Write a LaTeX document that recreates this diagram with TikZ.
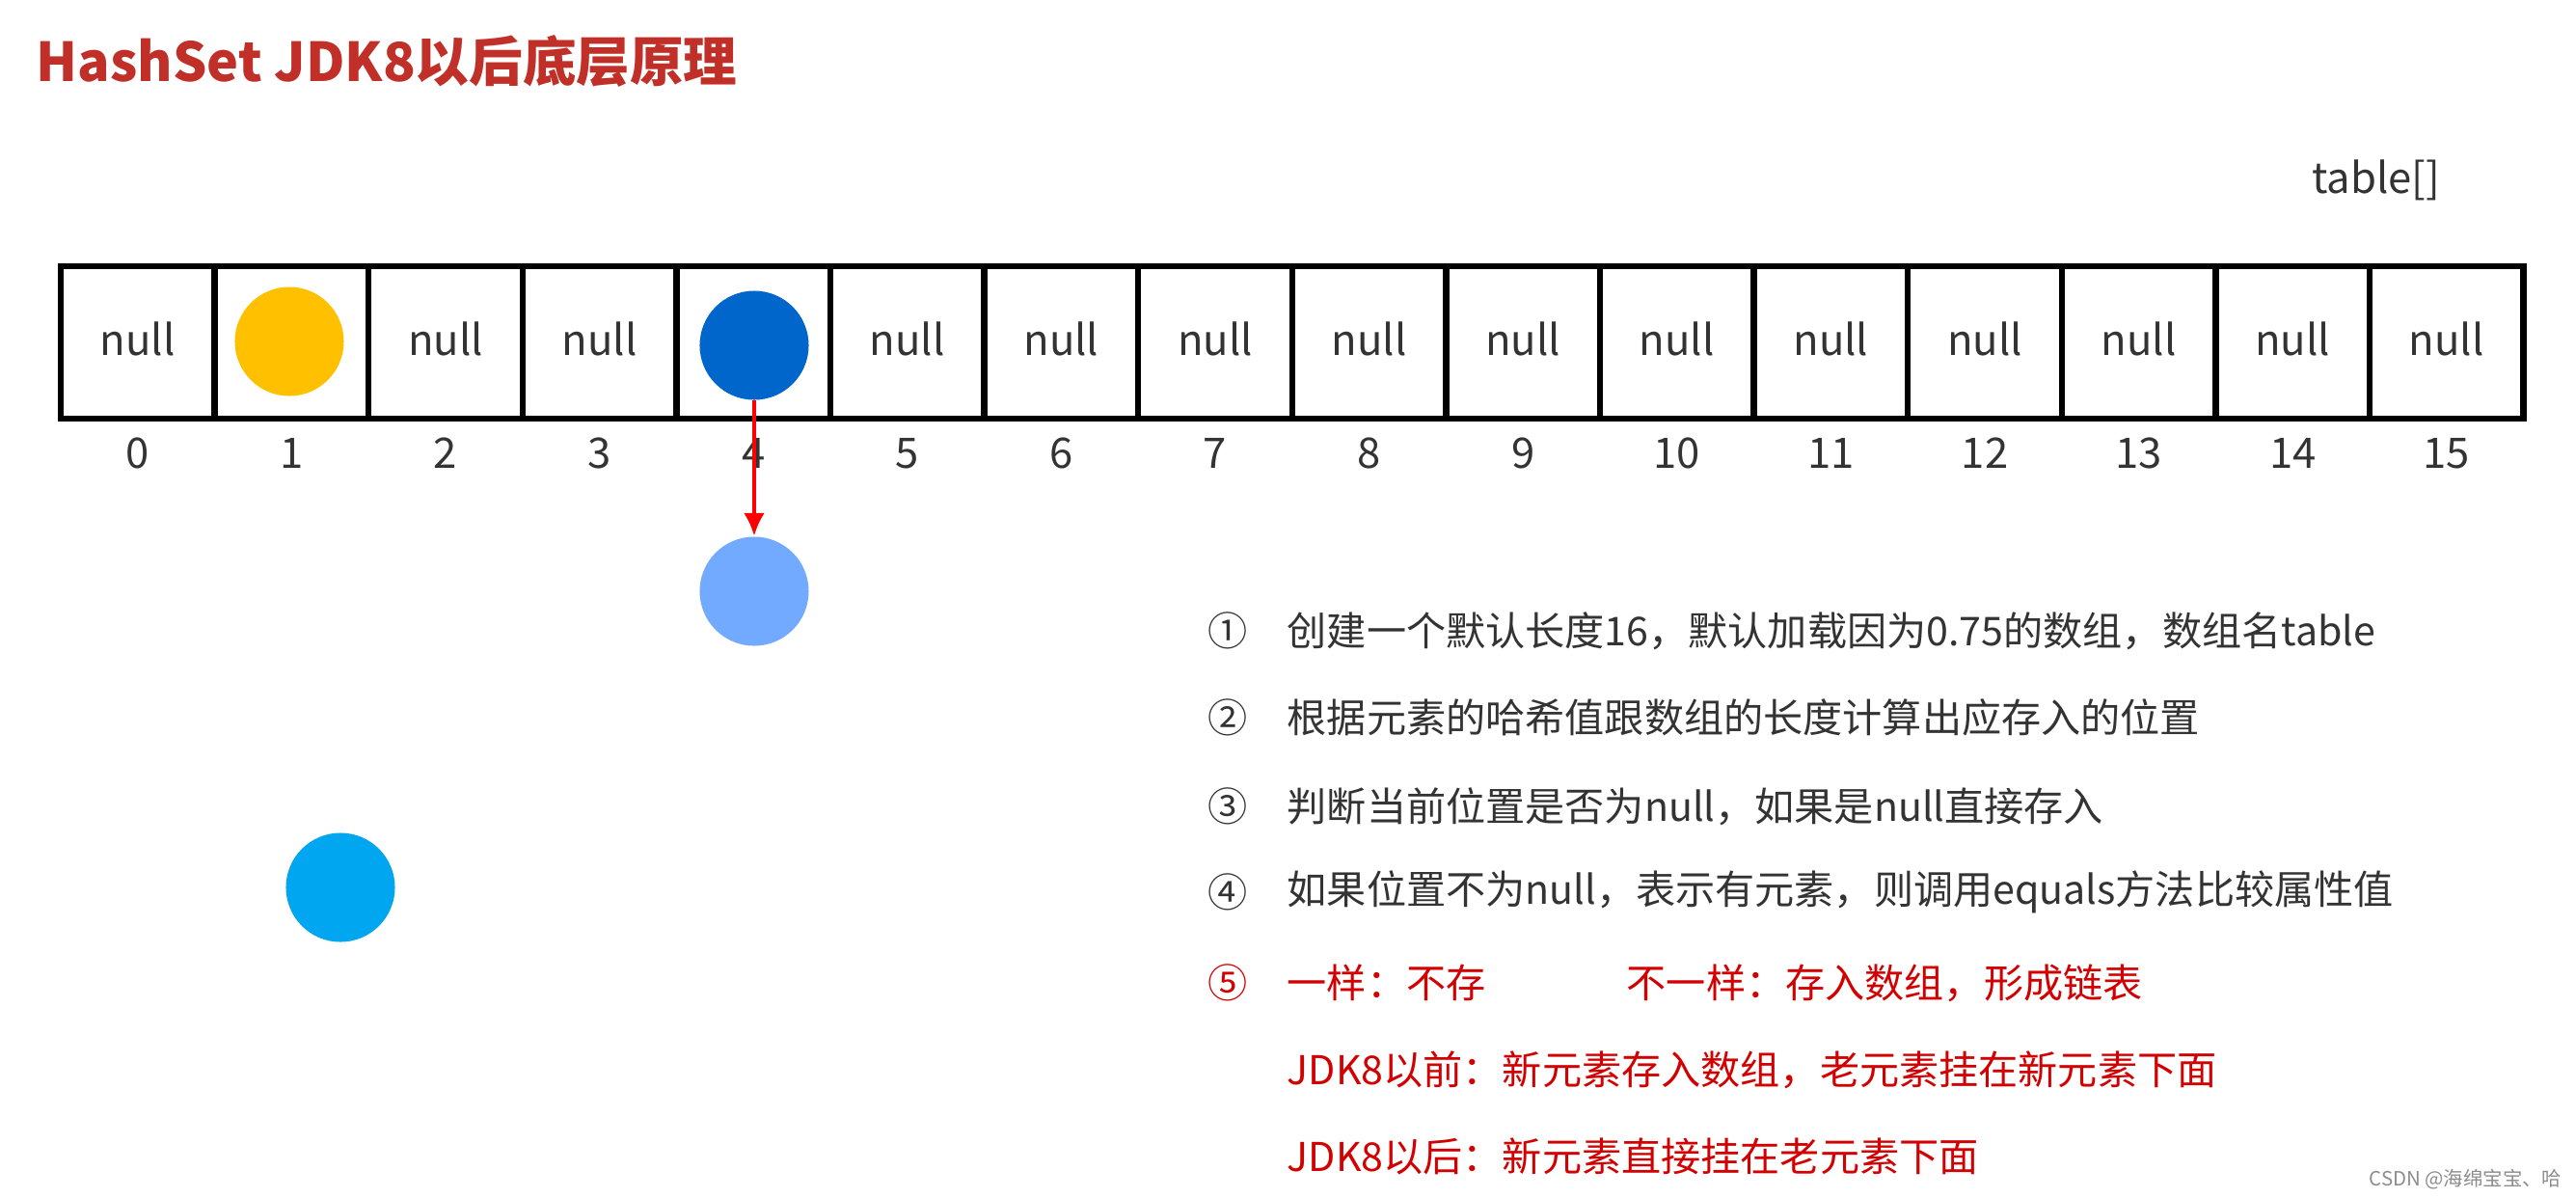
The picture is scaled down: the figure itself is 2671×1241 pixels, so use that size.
\documentclass[tikz,border=0pt]{standalone}
\usepackage{fontspec}
\setmainfont{Noto Sans CJK SC}
\usetikzlibrary{arrows.meta}

\definecolor{titlered}{RGB}{192,48,40}
\definecolor{txtgray}{RGB}{51,51,51}
\definecolor{notered}{RGB}{210,0,0}
\definecolor{ballyellow}{RGB}{255,192,0}
\definecolor{balldark}{RGB}{0,102,204}
\definecolor{balllight}{RGB}{114,170,255}
\definecolor{ballcyan}{RGB}{0,166,240}

\begin{document}
\begin{tikzpicture}[x=0.01cm,y=-0.01cm]
            \tikzstyle{every node}+=[inner sep=0pt]
            \tikzstyle{cell}=[draw=black, line width=1.8pt, minimum width=1.596cm, minimum height=1.58cm]
            \tikzstyle{small}=[text=txtgray, font=\fontsize{12.4}{15}\selectfont]
            \tikzstyle{ball}=[circle, minimum size=1.13cm]
            \tikzstyle{note}=[anchor=west, text=txtgray, font=\fontsize{11.7}{14}\selectfont]
            \tikzstyle{rednote}=[note, text=notered]
            \useasboundingbox (0,0) rectangle (2671,1241);
            \node [anchor=west, text=titlered, font=\fontsize{15.8}{19}\selectfont\bfseries] (title) at (37,63) {HashSet JDK8以后底层原理};
            \node [small, anchor=east] (tablename) at (2531,187) {table[]};
            % the array
            \foreach \i in {0,...,15} {
              \node [cell] (c\i) at ({142.8+159.6*\i},355) {};
              \node [small] (n\i) at ({142.8+159.6*\i},470) {\i};
            }
            \foreach \i in {0,2,3,5,6,7,8,9,10,11,12,13,14,15}
              \node [small] (null\i) at (142.8+159.6*\i,351) {null};
            % elements
            \node [ball, fill=ballyellow] (e1) at (300,354) {};
            \node [ball, fill=balldark] (e4) at (782,358) {};
            \node [ball, fill=balllight] (e4next) at (782,613) {};
            \node [ball, fill=ballcyan] (enew) at (353,920) {};
            \draw [red, line width=1.2pt, -{Latex[length=0.24cm,width=0.22cm]}] (e4.south) -- (e4next.north);
            % steps
            \node [note] (k1) at (1252,654) {①};
            \node [note] (s1) at (1334,654) {创建一个默认长度16，默认加载因为0.75的数组，数组名table};
            \node [note] (k2) at (1252,744) {②};
            \node [note] (s2) at (1334,744) {根据元素的哈希值跟数组的长度计算出应存入的位置};
            \node [note] (k3) at (1252,836) {③};
            \node [note] (s3) at (1334,836) {判断当前位置是否为null，如果是null直接存入};
            \node [note] (k4) at (1252,925) {④};
            \node [note] (s4) at (1334,925) {如果位置不为null，表示有元素，则调用equals方法比较属性值};
            \node [rednote] (k5) at (1252,1019) {⑤};
            \node [rednote] (s5a) at (1334,1019) {一样：不存};
            \node [rednote] (s5b) at (1686,1019) {不一样：存入数组，形成链表};
            \node [rednote] (s6) at (1334,1109) {JDK8以前：新元素存入数组，老元素挂在新元素下面};
            \node [rednote] (s7) at (1334,1199) {JDK8以后：新元素直接挂在老元素下面};
            \node [anchor=east, text=black!45, font=\fontsize{5.8}{7}\selectfont] (mark) at (2657,1223) {CSDN @海绵宝宝、哈};
        \end{tikzpicture}
\end{document}
